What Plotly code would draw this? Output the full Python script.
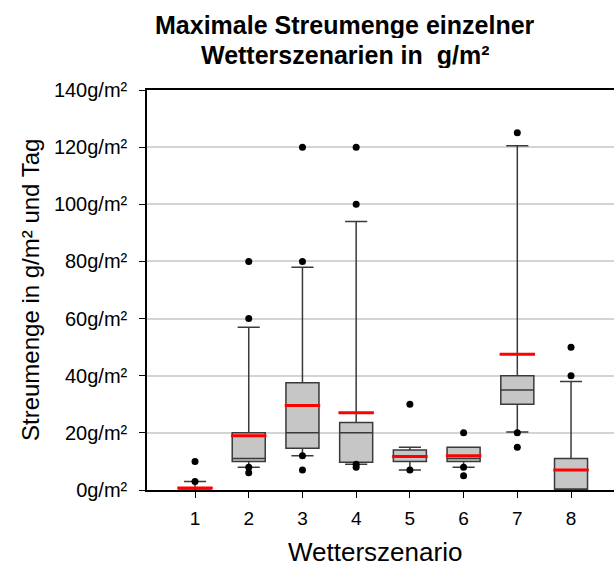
import plotly.graph_objects as go

categories = [1, 2, 3, 4, 5, 6, 7, 8]
tick_labels = ["1", "2", "3", "4", "5", "6", "7", "8"]
q1 = [0, 10, 14.6, 9.7, 10, 10, 30, 0]
median = [0, 11, 20, 20, 12, 11, 35, 0]
q3 = [0, 20, 37.5, 23.6, 14, 15, 40, 11]
lower_fence = [0, 8, 12, 9, 7, 8, 20.3, 0]
upper_fence = [3, 57, 78, 94, 15, 15, 120.5, 38]
means = [0.7, 19, 29.6, 27, 11.7, 12, 47.5, 7]
outliers = [
    [3, 10],
    [6, 8, 60, 80],
    [7, 12, 80, 120],
    [8, 9, 100, 120],
    [7, 30],
    [5, 8, 20],
    [15, 20, 125],
    [40, 50],
]
y_ticks = [0, 20, 40, 60, 80, 100, 120, 140]
y_tick_text = [f"{v}g/m²" for v in y_ticks]

FONT = "Liberation Sans, Arial, sans-serif"

fig = go.Figure()
fig.add_trace(go.Box(
    x=categories, q1=q1, median=median, q3=q3,
    lowerfence=lower_fence, upperfence=upper_fence,
    boxpoints=False, width=0.615, whiskerwidth=0.67,
    fillcolor="#c6c6c6", line=dict(color="#3a3a3a", width=1.5),
    showlegend=False, hoverinfo="skip",
))

mx, my = [], []
for c, m in zip(categories, means):
    mx += [c - 0.33, c + 0.33, None]
    my += [m, m, None]
fig.add_trace(go.Scatter(x=mx, y=my, mode="lines",
                         line=dict(color="#ff0000", width=3),
                         showlegend=False, hoverinfo="skip"))

ox, oy = [], []
for c, vals in zip(categories, outliers):
    for v in vals:
        ox.append(c)
        oy.append(v)
fig.add_trace(go.Scatter(x=ox, y=oy, mode="markers",
                         marker=dict(color="black", size=7),
                         showlegend=False, hoverinfo="skip"))

L, T, PW, PH = 147, 90, 467, 400


def px(x):
    return (x - L) / PW


def py(y):
    return (T + PH - y) / PH


fig.update_layout(
    width=614, height=566,
    margin=dict(l=L, r=0, t=T, b=566 - T - PH),
    plot_bgcolor="white", paper_bgcolor="white",
    font=dict(family=FONT, color="black", size=20),
    xaxis=dict(range=[0.106, 8.8], tickvals=categories, ticktext=tick_labels,
               showgrid=False, zeroline=False, showline=True, mirror=True,
               linecolor="black", linewidth=1.5, ticks="outside", ticklen=6,
               tickcolor="black", tickfont=dict(size=19), ticklabelstandoff=4),
    yaxis=dict(range=[0, 140], tickvals=y_ticks, ticktext=y_tick_text,
               showgrid=True, gridcolor="#d4d4d4", gridwidth=1.5,
               zeroline=False, showline=True, linecolor="black", linewidth=1.5,
               ticks="outside", ticklen=6, tickcolor="black",
               tickfont=dict(size=20), ticklabelstandoff=8),
    annotations=[
        dict(text="<b>Maximale Streumenge einzelner</b>",
             xref="paper", yref="paper", x=px(345), y=py(25), height=26,
             xanchor="center", yanchor="middle", showarrow=False,
             font=dict(size=25, family=FONT)),
        dict(text="<b>Wetterszenarien in  g/m²</b>",
             xref="paper", yref="paper", x=px(345), y=py(55), height=26,
             xanchor="center", yanchor="middle", showarrow=False,
             font=dict(size=25, family=FONT)),
        dict(text="Streumenge in g/m² und Tag", textangle=-90,
             xref="paper", yref="paper", x=px(30), y=py(290),
             xanchor="center", yanchor="middle", showarrow=False,
             font=dict(size=24, family=FONT)),
        dict(text="Wetterszenario",
             xref="paper", yref="paper", x=px(375), y=py(552), height=26,
             xanchor="center", yanchor="middle", showarrow=False,
             font=dict(size=26, family=FONT)),
    ],
)

fig.write_html("out.html")
